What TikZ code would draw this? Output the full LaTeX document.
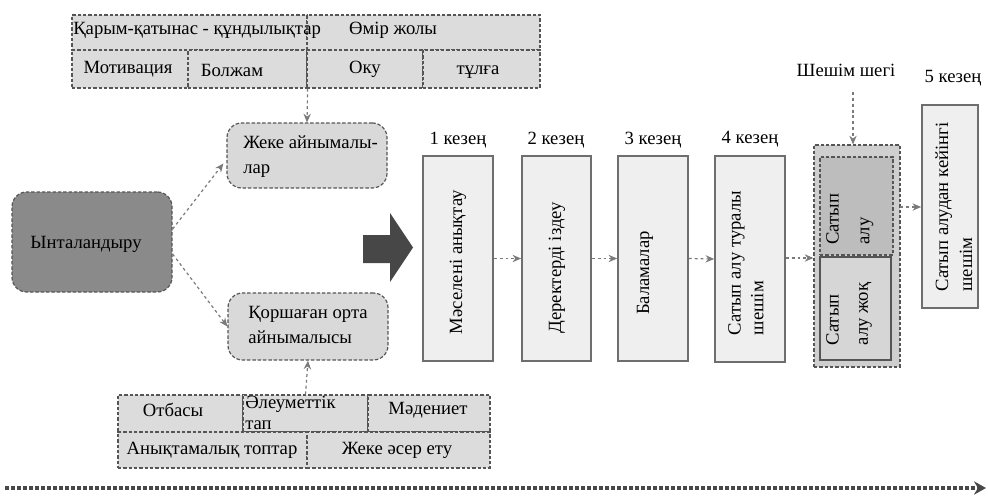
\documentclass[tikz,border=0pt]{standalone}
\usepackage{fontspec}
\setmainfont{Liberation Serif}
\usetikzlibrary{fit,calc,arrows.meta}

\definecolor{cellfill}{HTML}{DCDCDC}
\definecolor{rndfill}{HTML}{D9D9D9}
\definecolor{motfill}{HTML}{8A8A8A}
\definecolor{stagefill}{HTML}{EFEFEF}
\definecolor{edge}{HTML}{555555}
\definecolor{arrgray}{HTML}{7A7A7A}
\definecolor{bigarr}{HTML}{474747}

\tikzset{
  every node/.style={font=\fontsize{14}{16}\selectfont, text=black},
  dline/.style={draw=edge, line width=0.9pt, dash pattern=on 2.6pt off 1.4pt},
  dcell/.style={dline, fill=cellfill, inner sep=0pt},
  rnd/.style={dline, fill=rndfill, rounded corners=11pt, inner sep=0pt},
  stagebox/.style={draw=arrgray!90!black, line width=1.2pt, fill=stagefill, inner sep=0pt},
  lbl/.style={inner sep=0pt},
  rot/.style={inner sep=0pt, rotate=90, align=left},
  arr/.style={draw=arrgray, line width=0.9pt, dash pattern=on 2.2pt off 2.2pt,
              -{Stealth[length=6.5pt,width=5.5pt]}},
}

\begin{document}
\begin{tikzpicture}[x=0.75pt,y=-0.75pt]
\useasboundingbox (0,0) rectangle (988,501);

% ---- personal factors block (top)
\node[dcell, fit={(72,15)(307,50)}] (c11) {};
\node[dcell, fit={(307,15)(540,50)}] (c12) {};
\node[dcell, fit={(72,50)(188,88)}] (c21) {};
\node[dcell, fit={(188,50)(307,88)}] (c22) {};
\node[dcell, fit={(307,50)(423,88)}] (c23) {};
\node[dcell, fit={(423,50)(540,88)}] (c24) {};
\node[lbl, anchor=west] (t11) at (73,30) {Қарым-қатынас - құндылықтар};
\node[lbl] (t12) at (393,30) {Өмір жолы};
\node[lbl] (t21) at (128,69) {Мотивация};
\node[lbl] (t22) at (232,70) {Болжам};
\node[lbl] (t23) at (365,69) {Оку};
\node[lbl] (t24) at (478,72) {тұлға};

% ---- motivation and the two groups of variables
\node[rnd, fill=motfill, fit={(12,192)(172,292)}] (ynt) {};
\node[lbl] (yntt) at (86,244) {Ынталандыру};

\node[rnd, fit={(227,123)(387,188)}] (zheke) {};
\node[lbl, align=left, anchor=north west, font=\fontsize{14}{19}\selectfont] (zheket) at (243,135) {Жеке айнымалы-\\лар};

\node[rnd, fit={(228,293)(388,360)}] (kor) {};
\node[lbl, align=left, anchor=north west, font=\fontsize{14}{19}\selectfont] (kort) at (248,306) {Қоршаған орта\\айнымалысы};

% ---- environmental factors block (bottom)
\node[dcell, fit={(118,395)(243,432)}] (b11) {};
\node[dcell, fit={(243,395)(368,432)}] (b12) {};
\node[dcell, fit={(368,395)(490,432)}] (b13) {};
\node[dcell, fit={(118,432)(307,468)}] (b21) {};
\node[dcell, fit={(307,432)(490,468)}] (b22) {};
\node[lbl] (s11) at (173,410) {Отбасы};
\node[lbl, align=left, anchor=north west, font=\fontsize{14}{16}\selectfont] (s12) at (245,396) {Әлеуметтік\\тап};
\node[lbl] (s13) at (428,410) {Мәдениет};
\node[lbl] (s21) at (212,450) {Анықтамалық топтар};
\node[lbl] (s22) at (397,450) {Жеке әсер ету};

% ---- connectors on the left
\draw[arr] (c22.south east) -- (zheke.north);
\draw[arr] (b12.north) -- (kor.south);
\draw[arr] ($(ynt.east)+(0,-13)$) -- ($(zheke.west)+(-3,8)$);
\draw[arr] ($(ynt.east)+(0,12)$) -- (kor.west);

% ---- big transition arrow
\fill[bigarr] (363,235) -- (390,235) -- (390,213) -- (413,247.5) -- (390,282) -- (390,263) -- (363,263) -- cycle;

% ---- decision stages
\node[stagebox, fit={(423,156)(493,361)}] (st1) {};
\node[stagebox, fit={(522,156)(591,361)}] (st2) {};
\node[stagebox, fit={(618,156)(688,361)}] (st3) {};
\node[stagebox, fit={(715,156)(785,362)}] (st4) {};
\node[lbl] (k1) at (458,140) {1 кезең};
\node[lbl] (k2) at (556,140) {2 кезең};
\node[lbl] (k3) at (653,140) {3 кезең};
\node[lbl] (k4) at (750,139) {4 кезең};
\node[rot] (r1) at (458,262) {Мәселені анықтау};
\node[rot] (r2) at (557,268) {Деректерді іздеу};
\node[rot] (r3) at (645,273) {Баламалар};
\node[rot, anchor=north, font=\fontsize{14}{17}\selectfont] (r4) at (728,263) {Сатып алу туралы\\шешім};

% purchase / no purchase group
\node[dline, fill=black!19, inner sep=0pt, fit={(814,145)(900,367)}] (grp) {};
\node[dline, fill=black!26, inner sep=0pt, fit={(820,157)(893,255)}] (buy) {};
\node[draw=edge, line width=1.1pt, fill=black!16, inner sep=0pt, fit={(820,257)(891,360)}] (nobuy) {};
\node[rot, anchor=north, font=\fontsize{14}{23}\selectfont] (buyt) at (826,219) {Сатып\\алу};
\node[rot, anchor=north, font=\fontsize{14}{22}\selectfont] (nobuyt) at (826,314) {Сатып\\алу жоқ};

% stage 5
\node[stagebox, fit={(922,105)(978,308)}] (st5) {};
\node[rot, anchor=north, font=\fontsize{14}{18}\selectfont] (r5) at (935,207) {Сатып алудан кейінгі\\шешім};
\node[lbl] (k5) at (953,78) {5 кезең};
\node[lbl] (sh) at (846,70) {Шешім шегі};
\coordinate (shs) at (853,92);

% flow between stages
\draw[arr] (st1.east) -- (st2.west);
\draw[arr] (st2.east) -- (st3.west);
\draw[arr] (st3.east) -- (st4.west);
\draw[arr] ($(st4.east)+(0,-1)$) -- ($(grp.west)+(0,2)$);
\draw[arr] (shs) -- (grp.north -| shs);
\coordinate (g5) at (900,207);
\draw[arr] (g5) -- (g5 -| st5.west);

% time axis
\coordinate (ta) at (5,488);
\coordinate (tb) at (986,488);
\draw[draw=edge!85!black, line width=2.6pt, dash pattern=on 3pt off 1.5pt, -{Stealth[length=9pt,width=10pt]}] (ta) -- (tb);
\end{tikzpicture}
\end{document}
